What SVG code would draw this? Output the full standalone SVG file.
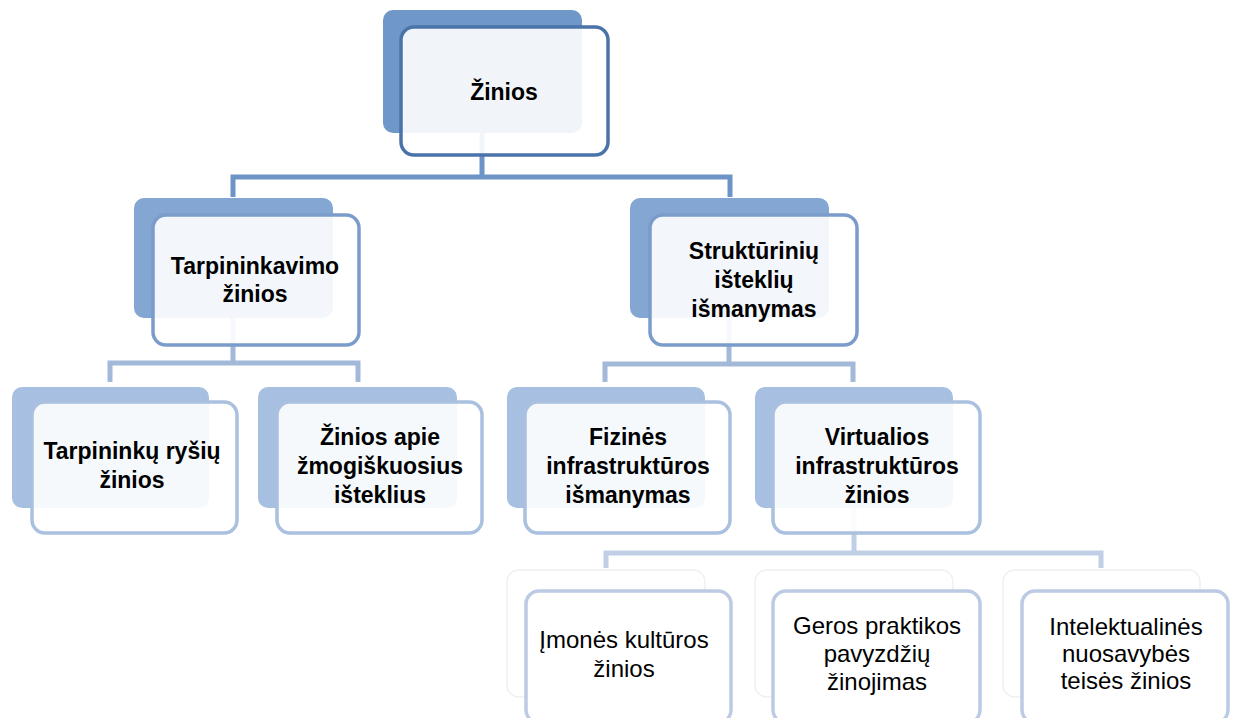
<svg xmlns="http://www.w3.org/2000/svg" width="1234" height="718" viewBox="0 0 1234 718">
<style>
.t{font-family:"Liberation Sans",Arial,sans-serif;font-size:23px;font-weight:bold;fill:#000;text-anchor:middle}
.r{font-family:"Liberation Sans",Arial,sans-serif;font-size:24px;fill:#000;text-anchor:middle}
.front{fill:#fff;fill-opacity:0.9;stroke-width:3.5}
.b1{fill:#6f98c9}.f1{stroke:#4a73aa}
.b2{fill:#83a6d2}.f2{stroke:#7b9cca}
.b3{fill:#a7bfe0}.f3{stroke:#a9c0df}
.b4{fill:#fff;stroke:#f0f0f0;stroke-width:1.5}.f4{stroke:#bccbe3}
.c{fill:none;stroke-width:5}
</style>
<rect width="1234" height="718" fill="#fff"/>
<g id="connectors">
<path class="c" stroke="#6d94c6" d="M482,133V177M233,197V177H730V197"/>
<path class="c" stroke="#a2b9da" d="M233,318V363M110,382V363H358V382"/>
<path class="c" stroke="#a2b9da" d="M729,318V364M605,382V364H853V382"/>
<path class="c" stroke="#c0cfe6" d="M854,508V553M606,568V553H1101V568"/>
</g>
<g id="n1">
<rect class="b1" x="383" y="10" width="199" height="123" rx="10"/>
<rect class="front f1" x="401" y="27" width="207" height="128" rx="13"/>
<text class="t" x="504" y="100">Žinios</text>
</g>
<g id="n2">
<rect class="b2" x="134" y="198" width="199" height="120" rx="10"/>
<rect class="front f2" x="153" y="215" width="206" height="130" rx="13"/>
<text class="t" x="255" y="274">Tarpininkavimo</text>
<text class="t" x="255" y="302">žinios</text>
</g>
<g id="n3">
<rect class="b2" x="630" y="198" width="199" height="120" rx="10"/>
<rect class="front f2" x="650" y="215" width="207" height="130" rx="13"/>
<text class="t" x="754" y="259">Struktūrinių</text>
<text class="t" x="754" y="288">išteklių</text>
<text class="t" x="754" y="317">išmanymas</text>
</g>
<g id="n4">
<rect class="b3" x="12" y="387" width="197" height="121" rx="10"/>
<rect class="front f3" x="32" y="402" width="205" height="131" rx="13"/>
<text class="t" x="132" y="459">Tarpininkų ryšių</text>
<text class="t" x="132" y="488">žinios</text>
</g>
<g id="n5">
<rect class="b3" x="258" y="387" width="199" height="121" rx="10"/>
<rect class="front f3" x="277" y="402" width="205" height="131" rx="13"/>
<text class="t" x="380" y="445">Žinios apie</text>
<text class="t" x="380" y="474">žmogiškuosius</text>
<text class="t" x="380" y="503">išteklius</text>
</g>
<g id="n6">
<rect class="b3" x="507" y="387" width="198" height="121" rx="10"/>
<rect class="front f3" x="525" y="402" width="205" height="131" rx="13"/>
<text class="t" x="628" y="445">Fizinės</text>
<text class="t" x="628" y="474">infrastruktūros</text>
<text class="t" x="628" y="503">išmanymas</text>
</g>
<g id="n7">
<rect class="b3" x="755" y="387" width="198" height="121" rx="10"/>
<rect class="front f3" x="773" y="402" width="207" height="131" rx="13"/>
<text class="t" x="877" y="445">Virtualios</text>
<text class="t" x="877" y="474">infrastruktūros</text>
<text class="t" x="877" y="503">žinios</text>
</g>
<g id="n8">
<rect class="b4" x="507" y="570" width="198" height="127" rx="12"/>
<rect class="front f4" x="526" y="591" width="205" height="132" rx="13"/>
<text class="r" x="624" y="648">Įmonės kultūros</text>
<text class="r" x="624" y="677">žinios</text>
</g>
<g id="n9">
<rect class="b4" x="755" y="570" width="198" height="127" rx="12"/>
<rect class="front f4" x="773" y="591" width="207" height="132" rx="13"/>
<text class="r" x="877" y="634">Geros praktikos</text>
<text class="r" x="877" y="662">pavyzdžių</text>
<text class="r" x="877" y="690">žinojimas</text>
</g>
<g id="n10">
<rect class="b4" x="1003" y="570" width="197" height="127" rx="12"/>
<rect class="front f4" x="1022" y="591" width="206" height="132" rx="13"/>
<text class="r" x="1126" y="635">Intelektualinės</text>
<text class="r" x="1126" y="662">nuosavybės</text>
<text class="r" x="1126" y="689">teisės žinios</text>
</g>
</svg>
